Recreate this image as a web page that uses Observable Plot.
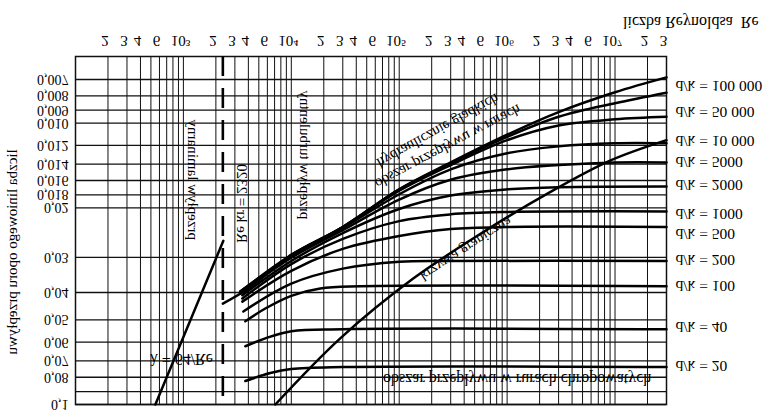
<!DOCTYPE html>
<html><head><meta charset="utf-8">
<script src="https://cdn.jsdelivr.net/npm/d3@7"></script>
<script src="https://cdn.jsdelivr.net/npm/@observablehq/plot@0.6"></script>
<style>body{margin:0;background:#fff}svg{display:block}</style>
</head><body><div id="chart"></div>
<script>
// ---- data ----
const reTickValues = [200,300,400,600,1e3,2e3,3e3,4e3,6e3,1e4,2e4,3e4,4e4,6e4,1e5,2e5,3e5,4e5,6e5,1e6,2e6,3e6,4e6,6e6,1e7,2e7,3e7];
const reTickLabels = ["2","3","4","6","10³","2","3","4","6","10⁴","2","3","4","6","10⁵","2","3","4","6","10⁶","2","3","4","6","10⁷","2","3"];
const lambdaTicks = [0.007,0.008,0.009,0.010,0.012,0.014,0.016,0.018,0.02,0.03,0.04,0.05,0.06,0.07,0.08,0.1];
const lambdaTickLabels = ["0,007","0,008","0,009","0,010","0,012","0,014","0,016","0,018","0,02","0,03","0,04","0,05","0,06","0,07","0,08","0,1"];
const lambdaGridExtra = [0.09];

const reCritical = 2320;
const laminarLine = [[550,0.1],[2345,0.0262]];
const boundaryCurve = [[7110,0.1],[28420,0.0582],[134800,0.0357],[562000,0.0248],[2.5e6,0.0176],[9.0e6,0.0136],[3e7,0.0115]];

const curveSmooth = [[2320,0.0438],[4000,0.0387],[1e4,0.0294],[3e4,0.0234],[1e5,0.0172],[3e5,0.0138],[1e6,0.0110],[3e6,0.00914],[1e7,0.00777],[3e7,0.00688]];
const curve100000 = [[3373,0.0397],[1e4,0.0294],[3e4,0.0234],[1e5,0.0172],[3e5,0.0139],[1e6,0.0112],[3e6,0.0095],[1e7,0.0085],[3e7,0.0078]];
const curve50000 = [[3373,0.0397],[1e4,0.0296],[3e4,0.0234],[1e5,0.0174],[3e5,0.0141],[1e6,0.0115],[3e6,0.0102],[1e7,0.0097],[3e7,0.0095]];
const curve10000 = [[3373,0.0397],[1e4,0.0299],[3e4,0.0236],[1e5,0.0179],[3e5,0.0146],[1e6,0.0128],[3e6,0.0121],[1e7,0.0118],[3e7,0.0118]];
const curve5000 = [[3373,0.0404],[1e4,0.0301],[3e4,0.0240],[1e5,0.0187],[3e5,0.0159],[1e6,0.0146],[3e6,0.0141],[1e7,0.0138],[3e7,0.0138]];
const curve2000 = [[3518,0.0409],[1e4,0.0309],[3e4,0.0246],[1e5,0.0202],[3e5,0.0181],[1e6,0.0172],[3e6,0.0169],[3e7,0.0168]];
const curve1000 = [[3518,0.0420],[1e4,0.0317],[3e4,0.0258],[1e5,0.0223],[3e5,0.0211],[1e6,0.0207],[3e7,0.0206]];
const curve500 = [[3518,0.0431],[1e4,0.0335],[3e4,0.0280],[1e5,0.0252],[3e5,0.0238],[1e6,0.0234],[3e7,0.0234]];
const curve200 = [[3594,0.0467],[1e4,0.0372],[3e4,0.0329],[1e5,0.0311],[3e5,0.0309],[3e7,0.0309]];
const curve100 = [[3750,0.0506],[5743,0.0456],[1e4,0.0411],[18560,0.0387],[43500,0.0380],[3e7,0.0380]];
const curve40 = [[3750,0.0621],[5743,0.0582],[1e4,0.0549],[3e4,0.0540],[3e7,0.0540]];
const curve20 = [[3750,0.0825],[6390,0.0773],[1e4,0.0748],[3e4,0.0736],[3e7,0.0736]];

const roughnessLabels = ["d/k = 100 000","d/k = 50 000","d/k = 10 000","d/k = 5000","d/k = 2000","d/k = 1000","d/k = 500","d/k = 200","d/k = 100","d/k = 40","d/k = 20"];
const roughnessLabelLambda = [0.00746,0.00921,0.01166,0.01383,0.01668,0.02125,0.0250,0.03087,0.03813,0.0536,0.0736];

const xTitle = "liczba Reynoldsa  Re";
const yTitle = "liczba liniowego oporu przepływu";

// ---- build tables ----
const curveList = [curveSmooth,curve100000,curve50000,curve10000,curve5000,curve2000,curve1000,curve500,curve200,curve100,curve40,curve20];
const curveRows = curveList.flatMap((c,k)=>c.map(([re,l])=>({re,l,k})));
const reGrid = [];
for (let e=2;e<=7;e++) for (let m=1;m<=9;m++){ const v=m*10**e; if (v<=3e7) reGrid.push(v); }
const xTicks = reTickValues.map((v,i)=>({v,t:reTickLabels[i]}));
const yTicks = lambdaTicks.map((v,i)=>({v,t:lambdaTickLabels[i]}));
const rightLabels = roughnessLabels.map((t,i)=>({t,l:roughnessLabelLambda[i]}));

const F = "'Liberation Serif','DejaVu Serif',serif";
const chart = Plot.plot({
  width: 769, height: 411,
  marginLeft: 75, marginRight: 103, marginTop: 56, marginBottom: 7,
  x: {type: "log", domain: [100, 3e7], axis: null},
  y: {type: "log", domain: [0.0058, 0.1], reverse: true, axis: null},
  style: {fontFamily: F, fontSize: "15px", background: "white", color: "black"},
  marks: [
    Plot.ruleX(reGrid, {stroke: "#111", strokeWidth: 1}),
    Plot.ruleY(lambdaTicks.concat(lambdaGridExtra), {stroke: "#111", strokeWidth: 1.3}),
    Plot.frame({stroke: "#111", strokeWidth: 1.5}),
    // tick labels, positioned by the scales
    Plot.text(xTicks, {x: "v", text: "t", frameAnchor: "top", dx: -3, dy: -21, textAnchor: "middle", fontSize: 15}),
    Plot.text(yTicks, {y: "v", text: "t", frameAnchor: "left", dx: -7, textAnchor: "end", fontSize: 14, letterSpacing: "0.6px"}),
    Plot.ruleX([reCritical], {y1: 0.0058, y2: 0.1, stroke: "#000", strokeWidth: 2.6, strokeDasharray: "20 12"}),
    Plot.line(laminarLine, {x: d=>d[0], y: d=>d[1], stroke: "#000", strokeWidth: 2.5}),
    Plot.line(boundaryCurve, {x: d=>d[0], y: d=>d[1], stroke: "#000", strokeWidth: 2.5, curve: "catmull-rom"}),
    Plot.line(curveRows, {x: "re", y: "l", z: "k", stroke: "#000", strokeWidth: 2.5, curve: "catmull-rom"}),
    Plot.text(rightLabels, {x: 3e7, y: "l", text: "t", dx: 9, textAnchor: "start", fontSize: 15.5}),
    Plot.text([xTitle], {frameAnchor: "top-right", dx: 92, dy: -41, textAnchor: "end", fontSize: 16}),
    Plot.text([yTitle], {x: 100, y: 0.0287, dx: -64, rotate: 90, textAnchor: "middle", fontSize: 15}),
    Plot.text(["λ = 64/Re"], {x: 958, y: 0.0695, fontSize: 16}),
    Plot.text(["przepływ laminarny"], {x: 1237, y: 0.0159, rotate: -90, fontSize: 15}),
    Plot.text(["Re kr = 2320"], {x: 3516, y: 0.0193, rotate: -90, fontSize: 15}),
    Plot.text(["przepływ turbulentny"], {x: 13490, y: 0.01296, rotate: -90, fontSize: 15}),
    Plot.text(["hydraulicznie gładkich"], {x: 229600, y: 0.01067, rotate: -29, fontSize: 15}),
    Plot.text(["obszar przepływu w rurach"], {x: 284400, y: 0.01214, rotate: -28, fontSize: 15}),
    Plot.text(["krzywa graniczna"], {x: 417000, y: 0.0280, rotate: -33, fontSize: 15}),
    Plot.text(["obszar przepływu w rurach chropowatych"], {x: 1.24e6, y: 0.0811, fontSize: 16})
  ]
});
document.getElementById("chart").append(chart);
// mirror every glyph vertically about its own centre, as in the reference picture
chart.querySelectorAll("text").forEach(t => {
  const b = t.getBBox();
  const cy = b.y + b.height / 2;
  const tr = t.getAttribute("transform") || "";
  t.setAttribute("transform", `${tr} translate(0,${cy}) scale(1,-1) translate(0,${-cy})`);
});
</script>
</body></html>
